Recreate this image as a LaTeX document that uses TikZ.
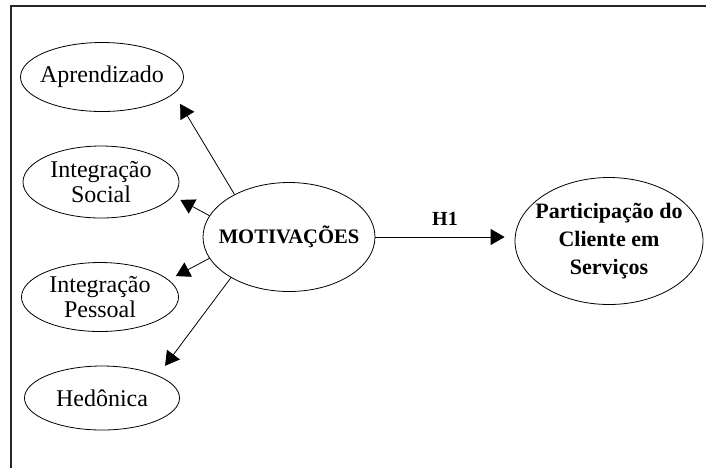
\documentclass[tikz,border=0pt]{standalone}
\usepackage{fontspec}
\setmainfont{Liberation Serif}
\usetikzlibrary{shapes.geometric, arrows.meta}

\begin{document}
\begin{tikzpicture}[x=0.5pt, y=-0.5pt,
    construct/.style={draw, ellipse, inner sep=-8pt, align=center, font=\fontsize{12}{12.5}\selectfont},
    arr/.style={-{Triangle[length=7pt, width=8pt]}}]
\useasboundingbox (0,0) rectangle (706,468);

% Frame
\coordinate (frameTR) at (706,6);
\coordinate (frameTL) at (11,6);
\coordinate (frameBL) at (11,468);
\draw[line width=1pt, black!85] (frameTR) -- (frameTL) -- (frameBL);

% Motivation dimensions
\node[construct, minimum width=81.5pt, minimum height=34.5pt] (aprend) at (102,77) {Aprendizado};
\node[construct, minimum width=78pt, minimum height=36pt] (social) at (101,182) {Integração\\Social};
\node[construct, minimum width=78.5pt, minimum height=34.5pt] (pessoal) at (100,297) {Integração\\Pessoal};
\node[construct, minimum width=77.5pt, minimum height=32pt] (hedon) at (102,398) {Hedônica};

% Main constructs
\node[construct, minimum width=86pt, minimum height=54.5pt, font=\fontsize{10.3}{12}\selectfont\bfseries] (motiv) at (289,237) {MOTIVAÇÕES};
\node[construct, minimum width=94pt, minimum height=63.5pt, font=\fontsize{11}{14}\selectfont\bfseries] (partic) at (609,241) {Participação do\\Cliente em\\Serviços};

% Arrows
\draw[arr, shorten >=6pt] (motiv.142) -- (aprend.-13);
\draw[arr, shorten >=4pt] (motiv.165) -- (social.-11);
\draw[arr, shorten >=4pt] (motiv.195) -- (pessoal.14);
\draw[arr, shorten >=6pt] (motiv.215) -- (hedon.22);
\draw[arr, shorten >=5pt] (motiv.east) -- node[above=2pt, font=\fontsize{10}{12}\selectfont\bfseries] (h1) {H1} (motiv.east -| partic.west);
\end{tikzpicture}
\end{document}
